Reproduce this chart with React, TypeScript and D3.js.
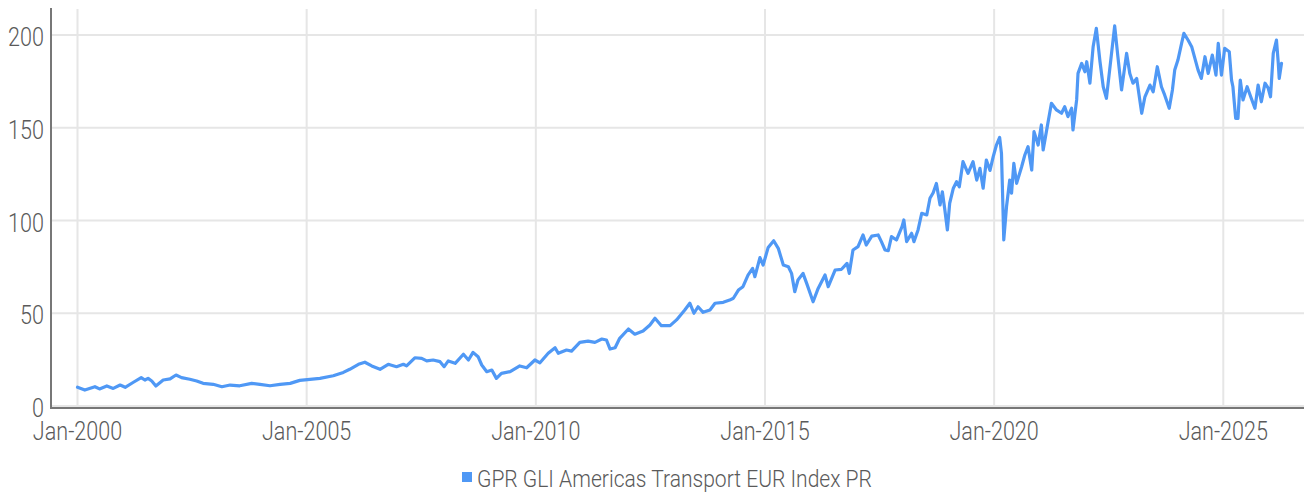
import React from "react";
import * as d3 from "d3";

// Decimal-year positions of the sampled points
const years: number[] = [
  2000.0, 2000.16, 2000.38, 2000.48, 2000.64, 2000.78, 2000.93, 2001.04, 2001.22, 2001.39,
  2001.47, 2001.54, 2001.62, 2001.71, 2001.87, 2002.02, 2002.15, 2002.27, 2002.45, 2002.6,
  2002.74, 2002.96, 2003.15, 2003.33, 2003.54, 2003.8, 2003.98, 2004.2, 2004.42, 2004.64,
  2004.85, 2005.07, 2005.29, 2005.58, 2005.8, 2005.94, 2006.13, 2006.27, 2006.42, 2006.6,
  2006.78, 2006.96, 2007.11, 2007.18, 2007.36, 2007.51, 2007.62, 2007.76, 2007.91, 2008.0,
  2008.09, 2008.24, 2008.42, 2008.53, 2008.63, 2008.74, 2008.82, 2008.93, 2009.04, 2009.14,
  2009.25, 2009.44, 2009.65, 2009.8, 2009.98, 2010.09, 2010.27, 2010.42, 2010.49, 2010.67,
  2010.78, 2010.96, 2011.14, 2011.29, 2011.44, 2011.54, 2011.62, 2011.73, 2011.83, 2012.02,
  2012.16, 2012.34, 2012.49, 2012.6, 2012.74, 2012.93, 2013.07, 2013.25, 2013.36, 2013.45,
  2013.54, 2013.65, 2013.8, 2013.91, 2014.09, 2014.23, 2014.31, 2014.42, 2014.52, 2014.63,
  2014.73, 2014.78, 2014.89, 2014.96, 2015.07, 2015.19, 2015.29, 2015.4, 2015.51, 2015.58,
  2015.65, 2015.72, 2015.83, 2015.91, 2016.05, 2016.16, 2016.31, 2016.38, 2016.53, 2016.67,
  2016.79, 2016.84, 2016.92, 2017.03, 2017.14, 2017.21, 2017.33, 2017.47, 2017.54, 2017.62,
  2017.69, 2017.76, 2017.87, 2017.99, 2018.03, 2018.09, 2018.2, 2018.25, 2018.34, 2018.42,
  2018.53, 2018.6, 2018.67, 2018.74, 2018.82, 2018.87, 2018.92, 2018.98, 2019.03, 2019.11,
  2019.18, 2019.24, 2019.32, 2019.43, 2019.54, 2019.62, 2019.69, 2019.76, 2019.83, 2019.91,
  2019.98, 2020.05, 2020.12, 2020.16, 2020.18, 2020.21, 2020.27, 2020.34, 2020.38, 2020.43,
  2020.49, 2020.6, 2020.67, 2020.74, 2020.82, 2020.87, 2020.96, 2021.03, 2021.07, 2021.14,
  2021.25, 2021.36, 2021.47, 2021.54, 2021.61, 2021.69, 2021.72, 2021.8, 2021.83, 2021.91,
  2021.98, 2022.02, 2022.09, 2022.16, 2022.23, 2022.31, 2022.38, 2022.45, 2022.52, 2022.63,
  2022.7, 2022.78, 2022.89, 2022.96, 2023.03, 2023.11, 2023.22, 2023.29, 2023.4, 2023.47,
  2023.56, 2023.65, 2023.72, 2023.82, 2023.89, 2023.94, 2024.01, 2024.09, 2024.14, 2024.23,
  2024.31, 2024.38, 2024.45, 2024.52, 2024.6, 2024.67, 2024.76, 2024.84, 2024.89, 2024.96,
  2025.03, 2025.13, 2025.18, 2025.21, 2025.27, 2025.32, 2025.37, 2025.43, 2025.52, 2025.61,
  2025.69, 2025.76, 2025.83, 2025.91, 2025.98, 2026.03, 2026.09, 2026.16, 2026.2, 2026.22,
  2026.27,
];

// Index values (EUR)
const values: number[] = [
  10.1, 8.6, 10.4, 9.2, 10.8, 9.5, 11.3, 10.1, 12.8, 15.3,
  14.0, 14.9, 13.5, 10.8, 14.0, 14.6, 16.7, 15.3, 14.4, 13.5,
  12.2, 11.7, 10.4, 11.3, 10.9, 12.2, 11.7, 10.9, 11.7, 12.2,
  13.8, 14.4, 14.9, 16.3, 18.1, 19.8, 22.5, 23.6, 21.6, 19.8,
  22.5, 21.2, 22.5, 21.6, 26.0, 25.7, 24.3, 24.8, 23.9, 21.2,
  24.3, 23.0, 27.9, 24.8, 28.9, 26.6, 22.1, 18.5, 19.4, 14.9,
  17.6, 18.5, 21.6, 20.6, 24.8, 23.3, 28.4, 31.4, 28.4, 30.2,
  29.6, 34.3, 35.0, 34.3, 36.1, 35.6, 30.7, 31.4, 36.5, 41.5,
  38.7, 40.4, 43.7, 47.3, 43.3, 43.3, 46.4, 51.8, 55.4, 50.0,
  53.5, 50.5, 51.8, 55.4, 55.9, 57.1, 58.1, 62.5, 64.3, 70.6,
  74.2, 69.7, 80.0, 76.0, 85.5, 89.1, 85.0, 76.0, 75.1, 71.5,
  61.6, 67.9, 71.5, 66.1, 56.2, 63.4, 70.6, 64.3, 73.3, 73.7,
  76.9, 71.5, 84.1, 85.9, 92.2, 86.8, 91.6, 92.2, 88.6, 84.1,
  83.7, 91.3, 89.5, 96.7, 100.3, 88.6, 93.1, 88.6, 94.9, 103.9,
  103.0, 112.0, 115.0, 120.0, 108.4, 115.5, 106.6, 94.9, 109.3, 117.4,
  120.9, 118.2, 131.7, 125.4, 131.7, 121.8, 128.1, 117.4, 132.6, 127.0,
  134.4, 140.7, 144.8, 136.2, 118.2, 89.5, 107.4, 121.8, 114.7, 130.8,
  120.0, 129.0, 135.3, 139.8, 127.2, 147.9, 140.7, 151.5, 138.0, 147.9,
  163.2, 159.6, 157.8, 161.3, 156.0, 160.5, 148.8, 165.0, 179.3, 184.7,
  180.2, 185.6, 174.0, 193.7, 203.6, 185.6, 172.1, 165.9, 181.1, 204.9,
  188.3, 170.4, 190.1, 179.3, 174.0, 176.6, 157.8, 166.7, 173.0, 169.4,
  182.9, 172.1, 167.7, 160.5, 170.4, 181.1, 186.5, 195.5, 200.9, 197.3,
  193.7, 187.4, 181.1, 176.6, 188.3, 179.3, 189.2, 178.4, 195.5, 178.4,
  192.8, 191.0, 175.7, 172.1, 155.1, 155.1, 175.7, 165.0, 172.1, 165.9,
  160.5, 173.0, 164.0, 174.0, 171.3, 166.7, 190.1, 197.3, 184.7, 176.6,
  184.7,
];

const xTickYears: number[] = [2000, 2005, 2010, 2015, 2020, 2025];
const yTickValues: number[] = [0, 50, 100, 150, 200];
const seriesName = "GPR GLI Americas Transport EUR Index PR";

const W = 1304;
const H = 493;
const FONT = 'Roboto, "Noto Sans", sans-serif';
const LINE_COLOR = "#4f98f5";
const GRID = "#e6e6e6";
const AXIS = "#777777";
const TEXT = "#5a5a5a";

function CText(props: {
  x: number;
  y: number;
  size: number;
  squeeze: number;
  anchor: "start" | "middle" | "end";
  children: React.ReactNode;
}) {
  return (
    <text
      transform={`translate(${props.x},${props.y}) scale(${props.squeeze},1)`}
      textAnchor={props.anchor}
      fontSize={props.size}
      fontWeight={300}
      fill={TEXT}
    >
      {props.children}
    </text>
  );
}

export default function App() {
  const x = d3.scaleLinear().domain([2000, 2025]).range([77.5, 1223.3]);
  const y = d3.scaleLinear().domain([0, 200]).range([406, 35]);
  const data = years.map((t, i) => [t, values[i]] as [number, number]);
  const line = d3
    .line<[number, number]>()
    .x((d) => x(d[0]))
    .y((d) => y(d[1]));

  const plotLeft = 52;
  const plotRight = W;
  const plotTop = 9;
  const plotBottom = 406;

  return (
    <svg
      width={W}
      height={H}
      style={{ position: "absolute", left: 0, top: 0, background: "#fff" }}
      fontFamily={FONT}
    >
      {yTickValues.map((v) => (
        <line
          key={"hg" + v}
          x1={plotLeft}
          x2={plotRight}
          y1={y(v)}
          y2={y(v)}
          stroke={GRID}
          strokeWidth={2}
        />
      ))}
      {xTickYears.map((t) => (
        <line
          key={"vg" + t}
          x1={x(t)}
          x2={x(t)}
          y1={plotTop}
          y2={plotBottom}
          stroke={GRID}
          strokeWidth={2}
        />
      ))}
      <path
        d={line(data) || ""}
        fill="none"
        stroke={LINE_COLOR}
        strokeWidth={3.2}
        strokeLinejoin="round"
        strokeLinecap="round"
      />
      <line x1={51} x2={51} y1={8} y2={409} stroke={AXIS} strokeWidth={2} />
      <line x1={50} x2={W} y1={408} y2={408} stroke={AXIS} strokeWidth={2} />
      {yTickValues.map((v) => (
        <CText key={"yl" + v} x={44} y={y(v) + 11} size={26} squeeze={0.83} anchor="end">
          {v}
        </CText>
      ))}
      {xTickYears.map((t) => (
        <CText key={"xl" + t} x={x(t)} y={440} size={26} squeeze={0.83} anchor="middle">
          {"Jan-" + t}
        </CText>
      ))}
      <rect x={462} y={472} width={10} height={10} fill={LINE_COLOR} />
      <CText x={477} y={486.5} size={24.5} squeeze={0.86} anchor="start">
        {seriesName}
      </CText>
    </svg>
  );
}
